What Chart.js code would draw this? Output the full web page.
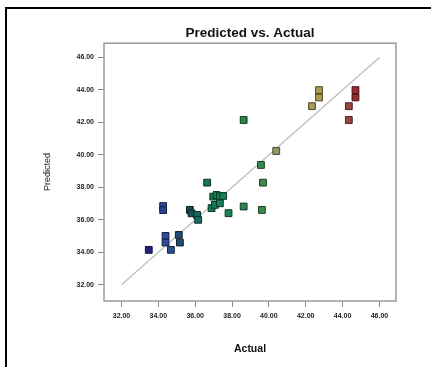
<!DOCTYPE html>
<html>
<head>
<meta charset="utf-8">
<script src="https://cdn.jsdelivr.net/npm/chart.js@4"></script>
<style>
  html, body { margin: 0; padding: 0; background: #fff; }
  #page { position: relative; width: 431px; height: 367px; overflow: hidden; }
  #frame { position: absolute; left: 5px; top: 7px; width: 440px; height: 380px;
           border-left: 2px solid #000; border-top: 2px solid #000; }
  #chart { position: absolute; left: 0; top: 0; }
</style>
</head>
<body>
<div id="page">
  <div id="frame"></div>
  <canvas id="chart" width="431" height="367"></canvas>
</div>
<script>
// observed vs. model output, one entry per sample
const actual = [
  33.48, 34.26, 34.26, 34.39, 34.39, 34.68, 35.11, 35.17, 35.71, 35.8,
  36.1, 36.16, 36.65, 36.98, 37.16, 37.34, 37.52, 36.89, 37.07, 37.34,
  37.81, 38.63, 38.63, 39.57, 39.68, 39.62, 40.4, 42.34, 42.72, 42.72,
  44.34, 44.34, 44.7, 44.7
];
const predicted = [
  34.15, 36.85, 36.6, 35.01, 34.6, 34.15, 35.07, 34.6, 36.61, 36.4,
  36.3, 36.0, 38.29, 37.43, 37.53, 37.45, 37.47, 36.72, 36.92, 37.02,
  36.41, 36.82, 42.15, 39.38, 38.29, 36.61, 40.24, 43.0, 43.99, 43.54,
  43.0, 42.15, 43.99, 43.54
];
const xTicks = [32, 34, 36, 38, 40, 42, 44, 46];
const yTicks = [32, 34, 36, 38, 40, 42, 44, 46];
const fitLine = [32, 46];

// colour ramp keyed on the actual value
const ramp = [
  [33.5, [40, 40, 140]],
  [34.5, [50, 90, 170]],
  [35.7, [30, 80, 90]],
  [36.2, [20, 125, 110]],
  [37.3, [25, 140, 95]],
  [39.6, [60, 155, 85]],
  [40.4, [160, 175, 110]],
  [42.7, [190, 175, 90]],
  [44.3, [175, 80, 80]],
  [44.7, [170, 45, 50]]
];
function rampColor(v, k) {
  let c = ramp[ramp.length - 1][1];
  if (v <= ramp[0][0]) c = ramp[0][1];
  for (let i = 0; i < ramp.length - 1; i++) {
    const [a, ca] = ramp[i], [b, cb] = ramp[i + 1];
    if (v >= a && v <= b) {
      const t = (v - a) / (b - a);
      c = ca.map((x, j) => x + (cb[j] - x) * t);
      break;
    }
  }
  return `rgb(${c.map(x => Math.round(x * k)).join(',')})`;
}

const points = actual.map((a, i) => ({ x: a, y: predicted[i] }));

// box around the plot area
const plotFrame = {
  id: 'plotFrame',
  afterDatasetsDraw(chart) {
    const { ctx, chartArea: a } = chart;
    ctx.save();
    ctx.strokeStyle = '#9a9a9a';
    ctx.lineWidth = 1.5;
    ctx.strokeRect(a.left, a.top, a.right - a.left, a.bottom - a.top);
    ctx.restore();
  }
};

const tickFont = { family: 'Liberation Sans, Arial, sans-serif', size: 7, weight: 'bold' };

new Chart(document.getElementById('chart'), {
  type: 'scatter',
  data: {
    datasets: [
      {
        data: points,
        pointStyle: 'rect',
        pointRadius: 4.8,
        backgroundColor: actual.map(a => rampColor(a, 0.9)),
        borderColor: actual.map(a => rampColor(a, 0.4)),
        borderWidth: 1,
        order: 1
      },
      {
        type: 'line',
        data: fitLine.map(v => ({ x: v, y: v })),
        borderColor: '#c4c0c0',
        borderWidth: 1.5,
        pointRadius: 0,
        order: 2
      }
    ]
  },
  plugins: [plotFrame],
  options: {
    responsive: false,
    animation: false,
    layout: { padding: { left: 0, right: 35, top: 0, bottom: 0 } },
    plugins: {
      legend: { display: false },
      tooltip: { enabled: false },
      title: {
        display: true,
        fullSize: false,
        text: 'Predicted vs. Actual',
        color: '#111',
        font: { family: 'Liberation Sans, Arial, sans-serif', size: 13.5, weight: 'bold' },
        padding: { top: 25, bottom: 2 }
      }
    },
    scales: {
      x: {
        type: 'linear',
        min: 31.05,
        max: 46.9,
        afterFit(s) { s.height = 66; },
        afterBuildTicks(s) { s.ticks = xTicks.map(v => ({ value: v })); },
        grid: { drawOnChartArea: false, drawTicks: true, tickLength: 6, color: '#8a8a8a' },
        border: { display: false },
        ticks: { color: '#222', font: tickFont, padding: 5, maxRotation: 0,
                 callback: v => Number(v).toFixed(2) },
        title: { display: true, text: 'Actual', color: '#111',
                 font: { family: 'Liberation Sans, Arial, sans-serif', size: 10.5, weight: 'bold' },
                 padding: { top: 0, bottom: 12 } }
      },
      y: {
        type: 'linear',
        min: 31.0,
        max: 46.88,
        afterFit(s) { s.width = 104; },
        afterBuildTicks(s) { s.ticks = yTicks.map(v => ({ value: v })); },
        grid: { drawOnChartArea: false, drawTicks: true, tickLength: 6, color: '#8a8a8a' },
        border: { display: false },
        ticks: { color: '#222', font: tickFont, padding: 4,
                 callback: v => Number(v).toFixed(2) },
        title: { display: true, text: 'Predicted', color: '#222',
                 font: { family: 'Liberation Sans, Arial, sans-serif', size: 9 },
                 padding: { top: 42, bottom: 0 } }
      }
    }
  }
});
</script>
</body>
</html>
